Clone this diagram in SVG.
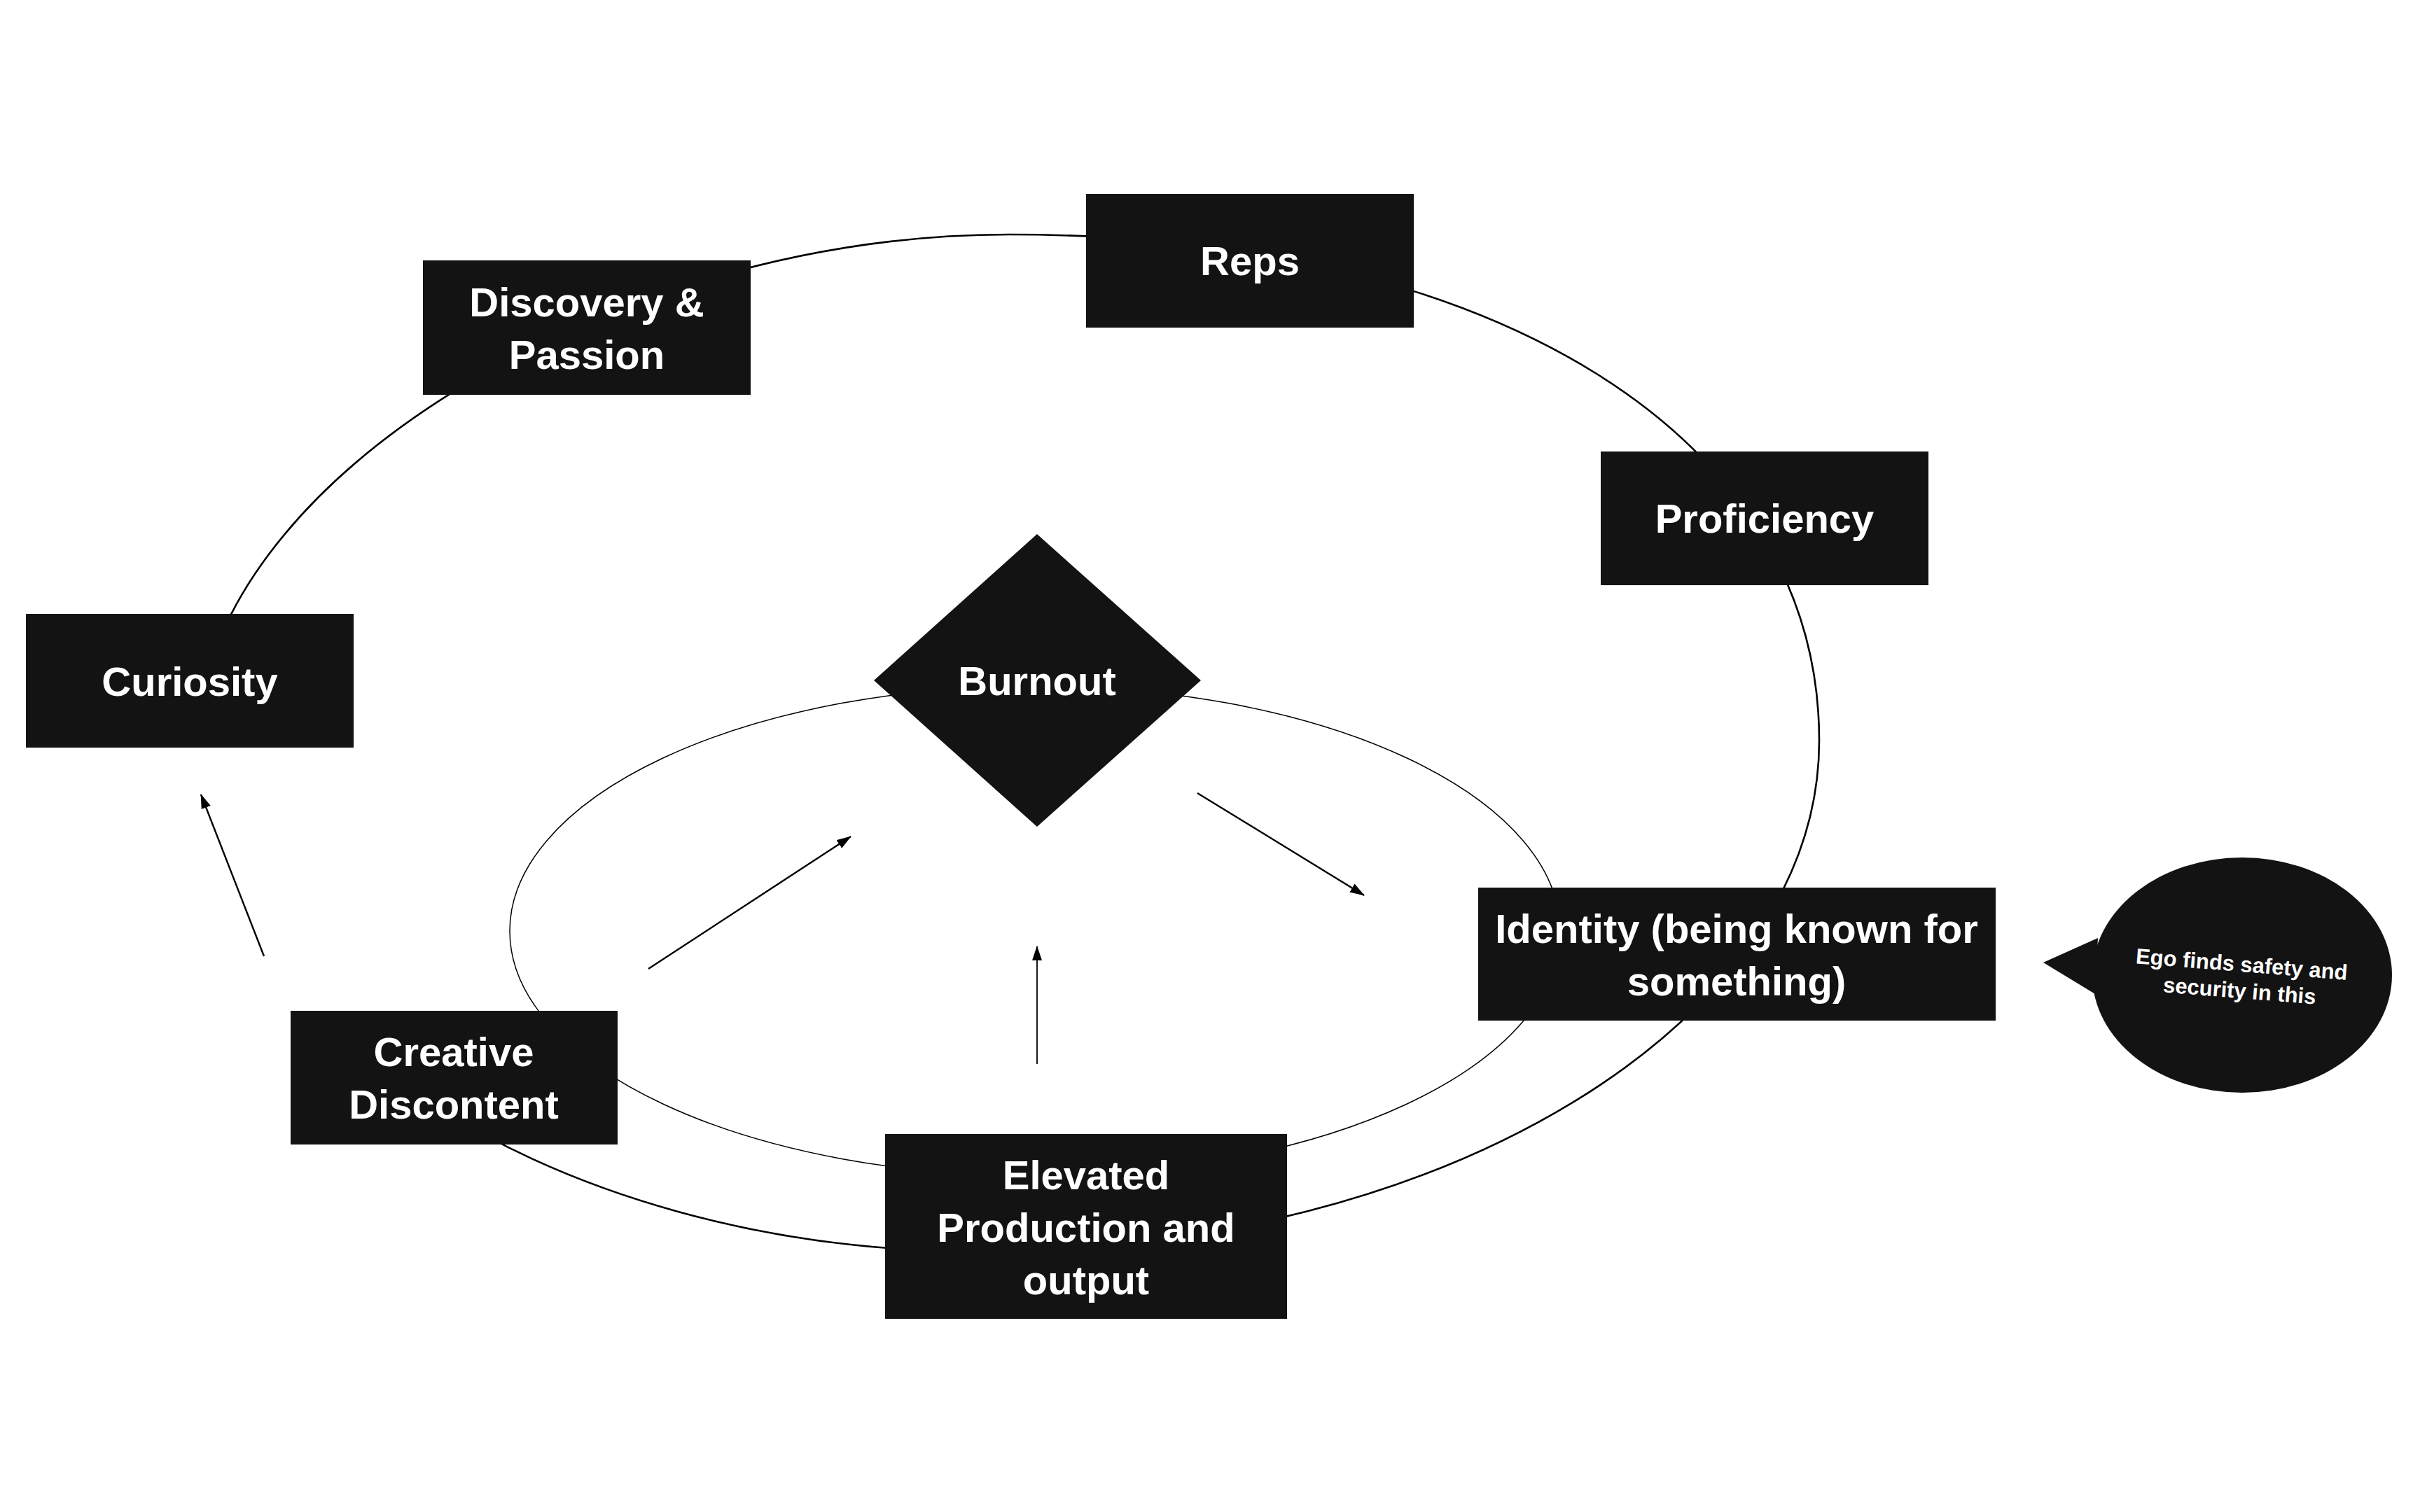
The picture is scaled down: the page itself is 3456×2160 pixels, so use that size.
<svg xmlns="http://www.w3.org/2000/svg" width="3456" height="2160" viewBox="0 0 3456 2160">
<style>
.box{fill:#131313}
.lbl{fill:#ffffff;font-family:"Liberation Sans",Arial,sans-serif;font-weight:bold;font-size:58px;text-anchor:middle}
.small{fill:#ffffff;font-family:"Liberation Sans",Arial,sans-serif;font-weight:bold;font-size:31px;text-anchor:middle}
.outer{fill:none;stroke:#000;stroke-width:2.6}
.inner{fill:none;stroke:#000;stroke-width:1.5}
.arrow{fill:none;stroke:#000;stroke-width:2.4;marker-end:url(#ah)}
</style>
<defs>
<marker id="ah" markerUnits="userSpaceOnUse" markerWidth="22" markerHeight="16" refX="20" refY="7" orient="auto">
<path d="M0,0 L21,7 L0,14 Z" fill="#000"/>
</marker>
</defs>
<rect width="3456" height="2160" fill="#ffffff"/>
<g id="connectors">
<path class="outer" d="M 284 1058 C 284 696.5 862.5 335 1441 335 C 2135 335 2598 624 2598 1058 C 2598 1461 2062 1788 1400 1788 C 1093 1788 814 1706 611.75 1573.75"/>
<ellipse class="inner" cx="1478" cy="1330" rx="750" ry="350"/>
<line class="arrow" x1="377" y1="1366" x2="287" y2="1135"/>
<line class="arrow" x1="926" y1="1384" x2="1215" y2="1195"/>
<line class="arrow" x1="1481" y1="1520" x2="1481" y2="1352" style="stroke-width:1.8"/>
<line class="arrow" x1="1710" y1="1133" x2="1948" y2="1279"/>
</g>
<g id="node-discovery">
<rect class="box" x="604" y="372" width="468" height="192"/>
<text class="lbl" x="838" y="452">Discovery &amp;</text>
<text class="lbl" x="838" y="527">Passion</text>
</g>
<g id="node-reps">
<rect class="box" x="1551" y="277" width="468" height="191"/>
<text class="lbl" x="1785" y="393">Reps</text>
</g>
<g id="node-proficiency">
<rect class="box" x="2286" y="645" width="468" height="191"/>
<text class="lbl" x="2520" y="761">Proficiency</text>
</g>
<g id="node-curiosity">
<rect class="box" x="37" y="877" width="468" height="191"/>
<text class="lbl" x="271" y="994">Curiosity</text>
</g>
<g id="node-burnout">
<polygon class="box" points="1481,763 1715,972 1481,1181 1248,972"/>
<text class="lbl" x="1481" y="993">Burnout</text>
</g>
<g id="node-identity">
<rect class="box" x="2111" y="1268" width="739" height="190"/>
<text class="lbl" x="2480" y="1347">Identity (being known for</text>
<text class="lbl" x="2480" y="1422">something)</text>
</g>
<g id="node-ego">
<ellipse class="box" cx="3202" cy="1393" rx="214" ry="168"/>
<polygon class="box" points="2996,1340 2918,1375 2992,1420"/>
<g transform="rotate(4.5 3200 1395)">
<text class="small" x="3200" y="1388">Ego finds safety and</text>
<text class="small" x="3200" y="1426">security in this</text>
</g>
</g>
<g id="node-creative">
<rect class="box" x="415" y="1444" width="467" height="191"/>
<text class="lbl" x="648" y="1523">Creative</text>
<text class="lbl" x="648" y="1598">Discontent</text>
</g>
<g id="node-elevated">
<rect class="box" x="1264" y="1620" width="574" height="264"/>
<text class="lbl" x="1551" y="1699">Elevated</text>
<text class="lbl" x="1551" y="1774">Production and</text>
<text class="lbl" x="1551" y="1849">output</text>
</g>
</svg>
